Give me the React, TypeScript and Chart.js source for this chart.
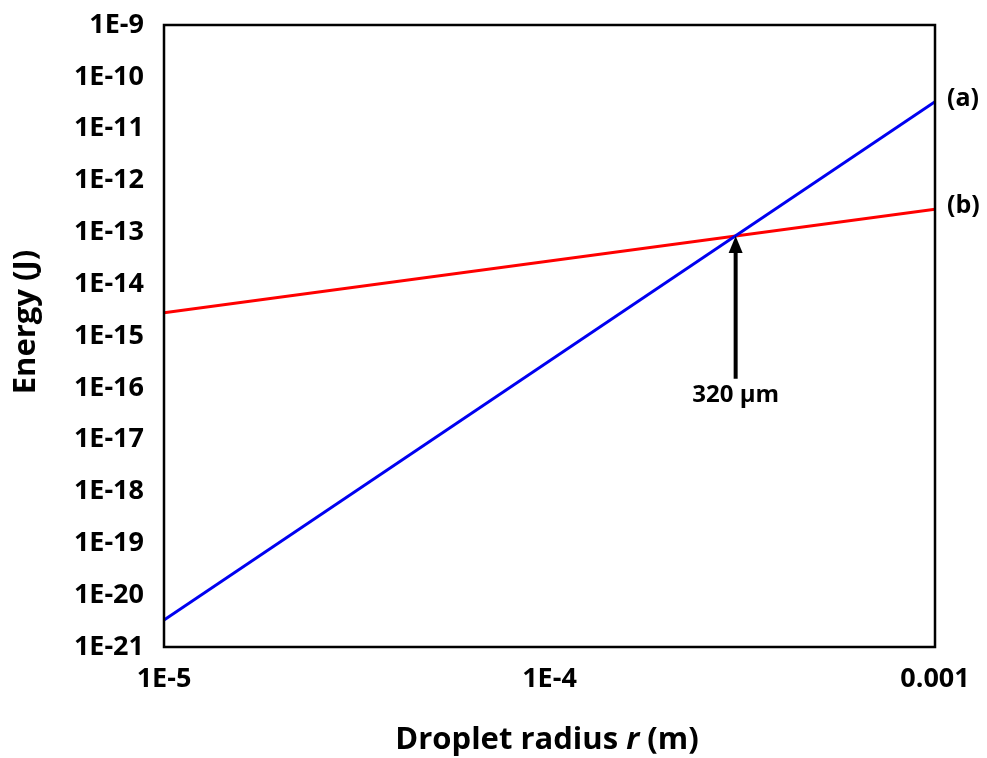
import React, { useEffect, useRef } from "react";
import { Chart, registerables } from "chart.js";
Chart.register(...registerables);

// Data
const radii = [1e-5, 1e-3];
const energyA = [3.3e-21, 3.3e-11];
const energyB = [2.8e-15, 2.8e-13];
const seriesLabels = ["(a)", "(b)"];
const seriesColors = ["#0000F0", "#FF0000"];
const xTickValues = [1e-5, 1e-4, 1e-3];
const xTickLabels = ["1E-5", "1E-4", "0.001"];
const yTickValues = [1e-21, 1e-20, 1e-19, 1e-18, 1e-17, 1e-16, 1e-15, 1e-14, 1e-13, 1e-12, 1e-11, 1e-10, 1e-9];
const yTickLabels = ["1E-21", "1E-20", "1E-19", "1E-18", "1E-17", "1E-16", "1E-15", "1E-14", "1E-13", "1E-12", "1E-11", "1E-10", "1E-9"];
const crossRadius = 3.04e-4;
const arrowTipEnergy = 8.5e-14;
const arrowBaseEnergy = 1.5e-16;
const arrowLabelEnergy = 7.2e-17;
const arrowLabel = "320 µm";
const yTitle = "Energy (J)";
const xTitleParts = ["Droplet radius ", "r", " (m)"];

const FONT = "'Open Sans', Lato, sans-serif";

const overlay = {
  id: "overlay",
  afterDatasetsDraw(chart: any) {
    const { ctx, chartArea, scales } = chart;
    const xs = scales.x;
    const ys = scales.y;
    ctx.save();
    // frame
    ctx.strokeStyle = "#000";
    ctx.lineWidth = 2.5;
    ctx.strokeRect(chartArea.left, chartArea.top, chartArea.right - chartArea.left, chartArea.bottom - chartArea.top);

    // series labels
    ctx.fillStyle = "#000";
    ctx.font = `bold 25px ${FONT}`;
    ctx.textAlign = "left";
    ctx.textBaseline = "middle";
    [energyA, energyB].forEach((arr, i) => {
      const y = ys.getPixelForValue(arr[arr.length - 1]);
      ctx.fillText(seriesLabels[i], chartArea.right + 12, y - 3);
    });

    // arrow
    const ax = xs.getPixelForValue(crossRadius);
    const tipY = ys.getPixelForValue(arrowTipEnergy);
    const baseY = ys.getPixelForValue(arrowBaseEnergy);
    ctx.lineWidth = 4;
    ctx.beginPath();
    ctx.moveTo(ax, baseY);
    ctx.lineTo(ax, tipY + 12);
    ctx.stroke();
    ctx.beginPath();
    ctx.moveTo(ax, tipY);
    ctx.lineTo(ax - 7, tipY + 17);
    ctx.lineTo(ax + 7, tipY + 17);
    ctx.closePath();
    ctx.fill();

    ctx.textAlign = "center";
    ctx.font = `bold 24px ${FONT}`;
    ctx.fillText(arrowLabel, ax, ys.getPixelForValue(arrowLabelEnergy));

    // y title
    ctx.save();
    ctx.translate(26, 322);
    ctx.rotate(-Math.PI / 2);
    ctx.font = `bold 31px ${FONT}`;
    ctx.textAlign = "center";
    ctx.fillText(yTitle, 0, 0);
    ctx.restore();

    // x title with italic r
    ctx.font = `bold 31px ${FONT}`;
    const w0 = ctx.measureText(xTitleParts[0]).width;
    ctx.font = `italic bold 31px ${FONT}`;
    const w1 = ctx.measureText(xTitleParts[1]).width;
    ctx.font = `bold 31px ${FONT}`;
    const w2 = ctx.measureText(xTitleParts[2]).width;
    const total = w0 + w1 + w2;
    let x = 547 - total / 2;
    const ty = 740;
    ctx.textAlign = "left";
    ctx.fillText(xTitleParts[0], x, ty);
    x += w0;
    ctx.font = `italic bold 31px ${FONT}`;
    ctx.fillText(xTitleParts[1], x, ty);
    x += w1;
    ctx.font = `bold 31px ${FONT}`;
    ctx.fillText(xTitleParts[2], x, ty);
    ctx.restore();
  },
};

export default function App() {
  const ref = useRef<HTMLCanvasElement>(null);
  useEffect(() => {
    if (!ref.current) return;
    const chart = new Chart(ref.current, {
      type: "line",
      data: {
        datasets: [
          {
            label: seriesLabels[0],
            data: radii.map((r, i) => ({ x: r, y: energyA[i] })),
            borderColor: seriesColors[0],
            borderWidth: 3,
            pointRadius: 0,
            fill: false,
          },
          {
            label: seriesLabels[1],
            data: radii.map((r, i) => ({ x: r, y: energyB[i] })),
            borderColor: seriesColors[1],
            borderWidth: 3,
            pointRadius: 0,
            fill: false,
          },
        ],
      },
      options: {
        animation: false,
        responsive: false,
        maintainAspectRatio: false,
        layout: { padding: { left: 12, top: 25, right: 52, bottom: 0 } },
        plugins: {
          legend: { display: false },
          tooltip: { enabled: false },
        },
        scales: {
          x: {
            type: "logarithmic",
            min: 1e-5,
            max: 1e-3,
            grid: { display: false },
            border: { display: false },
            afterBuildTicks: (scale: any) => {
              scale.ticks = xTickValues.map((v) => ({ value: v }));
            },
            afterFit: (scale: any) => {
              scale.height = 111;
              scale.paddingLeft = 0;
              scale.paddingRight = 0;
            },
            ticks: {
              autoSkip: false,
              maxRotation: 0,
              padding: 8,
              color: "#000",
              font: { family: FONT, size: 27, weight: "bold" },
              callback: (v: any) => {
                const i = xTickValues.findIndex((t) => Math.abs(Math.log10(t) - Math.log10(v)) < 1e-6);
                return i >= 0 ? xTickLabels[i] : "";
              },
            },
          },
          y: {
            type: "logarithmic",
            min: 1e-21,
            max: 1e-9,
            grid: { display: false },
            border: { display: false },
            afterBuildTicks: (scale: any) => {
              scale.ticks = yTickValues.map((v) => ({ value: v }));
            },
            afterFit: (scale: any) => {
              scale.width = 152;
              scale.paddingTop = 0;
              scale.paddingBottom = 0;
            },
            ticks: {
              autoSkip: false,
              padding: 12,
              color: "#000",
              font: { family: FONT, size: 27, weight: "bold" },
              callback: (v: any) => {
                const i = yTickValues.findIndex((t) => Math.abs(Math.log10(t) - Math.log10(v)) < 1e-6);
                return i >= 0 ? yTickLabels[i] : "";
              },
            },
          },
        },
      },
      plugins: [overlay],
    });
    return () => chart.destroy();
  }, []);
  return (
    <div style={{ position: "absolute", left: 0, top: 0, width: 987, height: 758, background: "#fff" }}>
      <canvas ref={ref} width={987} height={758} style={{ width: 987, height: 758 }} />
    </div>
  );
}
